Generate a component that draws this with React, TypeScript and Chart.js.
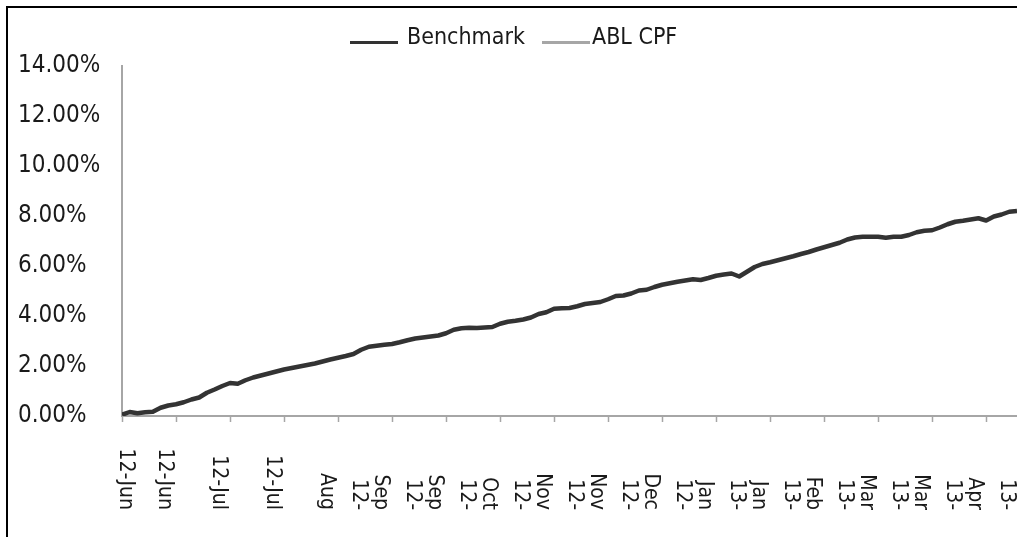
import React, { useEffect, useRef } from "react";
import { Chart, registerables } from "chart.js";

Chart.register(...registerables);

// ---------- data ----------
const seriesNames = ["Benchmark", "ABL CPF"];
const seriesColors = ["#333333", "#a6a6a6"];

// Benchmark cumulative return (%), one value every 2 business days
const benchmark = [
  0.05, 0.16, 0.11, 0.15, 0.17, 0.33, 0.42, 0.47, 0.55, 0.66,
  0.74, 0.93, 1.06, 1.2, 1.32, 1.29, 1.43, 1.54, 1.62, 1.7,
  1.78, 1.86, 1.92, 1.98, 2.04, 2.1, 2.18, 2.26, 2.33, 2.4,
  2.48, 2.65, 2.77, 2.81, 2.85, 2.88, 2.95, 3.03, 3.1, 3.14,
  3.18, 3.22, 3.31, 3.45, 3.51, 3.53, 3.52, 3.54, 3.56, 3.69,
  3.77, 3.81, 3.86, 3.94, 4.08, 4.15, 4.29, 4.31, 4.32, 4.39,
  4.48, 4.52, 4.56, 4.67, 4.8, 4.82, 4.9, 5.02, 5.05, 5.16,
  5.25, 5.31, 5.37, 5.42, 5.47, 5.44, 5.52, 5.61, 5.66, 5.7,
  5.58, 5.77, 5.96, 6.08, 6.15, 6.23, 6.31, 6.39, 6.48, 6.56,
  6.66, 6.75, 6.84, 6.93, 7.06, 7.14, 7.17, 7.17, 7.17, 7.13,
  7.17, 7.17, 7.24, 7.35, 7.41, 7.43, 7.54, 7.67, 7.77, 7.81,
  7.86, 7.91, 7.82, 7.98, 8.06, 8.17, 8.2,
];
// ABL CPF: no visible line in the reference
const ablCpf: number[] = [];

// category tick labels, one per labelled tick (lines as wrapped in the original)
const xTickLabels: string[][] = [
  ["12-Jun"], ["12-Jun"], ["12-Jul"], ["12-Jul"],
  ["12-", "Aug"], ["12-", "Sep"], ["12-", "Sep"], ["12-", "Oct"],
  ["12-", "Nov"], ["12-", "Nov"], ["12-", "Dec"], ["13-", "Jan"],
  ["13-", "Jan"], ["13-", "Feb"], ["13-", "Mar"], ["13-", "Mar"],
  ["13-", "Apr"],
];
const pointsPerTick = 7;
const yMin = 0;
const yMax = 14;
const yStep = 2;

const FONT = '"DejaVu Sans Condensed", "DejaVu Sans", sans-serif';
const TEXT = "#1a1a1a";
const AXIS = "#a6a6a6";

const decorPlugin = {
  id: "decor",
  beforeDraw(chart: any) {
    const ctx = chart.ctx;
    ctx.save();
    ctx.fillStyle = "#000";
    ctx.fillRect(6, 6, chart.width, 2);
    ctx.fillRect(6, 6, 2, chart.height);
    ctx.restore();
  },
  afterDraw(chart: any) {
    const ctx = chart.ctx;
    const xs = chart.scales.x;
    const area = chart.chartArea;
    ctx.save();
    // x tick labels, rotated to read top-to-bottom
    ctx.fillStyle = TEXT;
    ctx.font = `21px ${FONT}`;
    ctx.textAlign = "right";
    ctx.textBaseline = "middle";
    xs.ticks.forEach((t: any) => {
      if (t.value % pointsPerTick !== 0) return;
      const idx = t.value / pointsPerTick;
      const lines = xTickLabels[idx];
      if (!lines) return;
      const x = xs.getPixelForValue(t.value);
      const n = lines.length;
      lines.forEach((line, j) => {
        let px = x - 12 + (n - 1 - j) * 32;
        px = Math.max(px, area.left + 3);
        ctx.save();
        ctx.translate(px, 510);
        ctx.rotate(Math.PI / 2);
        ctx.fillText(line, 0, 0);
        ctx.restore();
      });
    });
    // legend
    const legendX = [350, 542];
    const textOffset = [57, 50];
    ctx.font = `23px ${FONT}`;
    ctx.textAlign = "left";
    ctx.textBaseline = "middle";
    chart.data.datasets.forEach((ds: any, i: number) => {
      const x0 = legendX[i];
      ctx.strokeStyle = ds.borderColor;
      ctx.lineWidth = 3;
      ctx.beginPath();
      ctx.moveTo(x0, 42.5);
      ctx.lineTo(x0 + 48, 42.5);
      ctx.stroke();
      ctx.fillStyle = TEXT;
      ctx.fillText(ds.label, x0 + textOffset[i], 38);
    });
    ctx.restore();
  },
};

export default function App() {
  const ref = useRef<HTMLCanvasElement | null>(null);
  useEffect(() => {
    if (!ref.current) return;
    const chart = new Chart(ref.current, {
      type: "line",
      data: {
        datasets: [
          {
            label: seriesNames[0],
            data: benchmark.map((v, i) => ({ x: i, y: v })),
            borderColor: seriesColors[0],
            backgroundColor: seriesColors[0],
            borderWidth: 4.5,
            pointRadius: 0,
            tension: 0,
            borderJoinStyle: "round",
          },
          {
            label: seriesNames[1],
            data: ablCpf.map((v, i) => ({ x: i, y: v })),
            borderColor: seriesColors[1],
            backgroundColor: seriesColors[1],
            borderWidth: 3,
            pointRadius: 0,
          },
        ],
      },
      options: {
        animation: false,
        responsive: false,
        events: [],
        layout: { padding: { left: 18, top: 66, right: 0, bottom: 115 } },
        plugins: { legend: { display: false }, tooltip: { enabled: false } },
        scales: {
          x: {
            type: "linear",
            min: 0,
            max: benchmark.length - 1,
            ticks: { display: false, stepSize: pointsPerTick, includeBounds: false },
            grid: {
              drawOnChartArea: false,
              drawTicks: true,
              tickLength: 6,
              tickColor: AXIS,
              tickWidth: 1.5,
            },
            border: { display: true, color: AXIS, width: 2 },
          },
          y: {
            type: "linear",
            min: yMin,
            max: yMax,
            ticks: {
              stepSize: yStep,
              crossAlign: "far",
              padding: 0,
              color: TEXT,
              font: { family: FONT, size: 24 },
              callback: (v: any) => Number(v).toFixed(2) + "%",
            },
            grid: { drawOnChartArea: false, drawTicks: false },
            border: { display: true, color: AXIS, width: 2 },
            afterFit: (s: any) => {
              s.width = 104;
            },
          },
        },
      },
      plugins: [decorPlugin],
    });
    return () => chart.destroy();
  }, []);
  return (
    <div
      style={{
        position: "fixed",
        left: 0,
        top: 0,
        width: 1017,
        height: 537,
        overflow: "hidden",
        background: "#fff",
      }}
    >
      <canvas ref={ref} width={1017} height={537} style={{ display: "block" }} />
    </div>
  );
}
